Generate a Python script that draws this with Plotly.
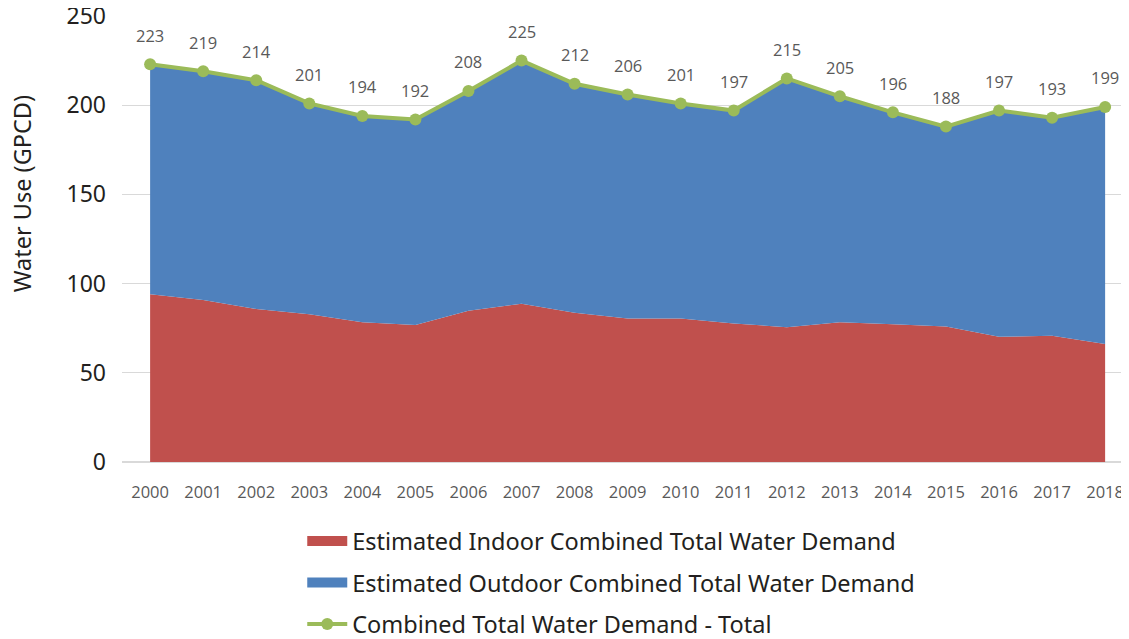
import plotly.graph_objects as go

years = [str(y) for y in range(2000, 2019)]
indoor = [94.0, 90.8, 85.8, 82.8, 78.3, 76.8, 84.8, 88.7, 83.7, 80.5, 80.5, 77.7, 75.5, 78.3, 77.2, 75.9, 70.2, 70.8, 66.1]
outdoor = [129.0, 128.2, 128.2, 118.2, 115.7, 115.2, 123.2, 136.3, 128.3, 125.5, 120.5, 119.3, 139.5, 126.7, 118.8, 112.1, 126.8, 122.2, 132.9]
total = [223, 219, 214, 201, 194, 192, 208, 225, 212, 206, 201, 197, 215, 205, 196, 188, 197, 193, 199]
y_ticks = [0, 50, 100, 150, 200, 250]

names = ["Estimated Indoor Combined Total Water Demand",
         "Estimated Outdoor Combined Total Water Demand",
         "Combined Total Water Demand - Total"]
y_title = "Water Use (GPCD)"

RED = "#c0504d"
BLUE = "#4f81bd"
GREEN = "#9bbb59"
DARK = "#231f20"
GRAY = "#595959"

fig = go.Figure()
fig.add_trace(go.Scatter(
    x=years, y=indoor, name=names[0], stackgroup="one", mode="none",
    fillcolor=RED, showlegend=False,
))
fig.add_trace(go.Scatter(
    x=years, y=outdoor, name=names[1], stackgroup="one", mode="none",
    fillcolor=BLUE, showlegend=False,
))
fig.add_trace(go.Scatter(
    x=years, y=total, name=names[2], mode="lines+markers",
    line=dict(color=GREEN, width=4), marker=dict(color=GREEN, size=12),
    showlegend=False,
))
# legend entries (no data drawn)
for nm, grp, kw in [
    (names[0], "a", dict(mode="lines", line=dict(color=RED, width=14))),
    (names[1], "b", dict(mode="lines", line=dict(color=BLUE, width=14))),
    (names[2], "c", dict(mode="lines+markers", line=dict(color=GREEN, width=4),
                         marker=dict(color=GREEN, size=12))),
]:
    fig.add_trace(go.Scatter(x=[None], y=[None], name=nm, legendgroup=grp,
                             showlegend=True, hoverinfo="skip", **kw))

for i, t in enumerate(total):
    fig.add_annotation(x=i, y=t, text=str(t), showarrow=False, yshift=29,
                       font=dict(family="Open Sans", size=16.5, color=GRAY))

# y-axis title (sits above the plot's vertical centre, as in the reference)
fig.add_annotation(xref="paper", yref="paper", x=-0.0995, y=0.602,
                   xanchor="center", yanchor="middle", textangle=-90,
                   text=y_title, showarrow=False,
                   font=dict(family="Noto Sans", size=23.5, color=DARK))

# page body has an 8px margin; size the figure so it fills the window
fig.update_layout(
    width=1121, height=631,
    margin=dict(l=114, r=0, t=8, b=177),
    paper_bgcolor="white", plot_bgcolor="white",
    showlegend=True,
    legend=dict(
        xref="paper", yref="container",
        x=0.179, y=0.190, xanchor="left", yanchor="top",
        orientation="v", traceorder="grouped", tracegroupgap=8,
        font=dict(family="Noto Sans", size=23.5, color=DARK),
        itemwidth=40,
    ),
    xaxis=dict(
        type="category", range=[-0.53, 18.45], showgrid=False,
        showline=False, zeroline=False, automargin=False,
        tickfont=dict(family="Open Sans", size=16.5, color=GRAY),
        ticklabelstandoff=18,
    ),
    yaxis=dict(
        range=[0, 250], tickvals=y_ticks, showgrid=True, gridcolor="#d9d9d9",
        gridwidth=1, zeroline=True, zerolinecolor="#d9d9d9", showline=False,
        automargin=False, ticklabeloverflow="allow",
        tickfont=dict(family="Noto Sans", size=23, color=DARK),
        ticklabelstandoff=15,
    ),
)

fig.write_html("out.html")
